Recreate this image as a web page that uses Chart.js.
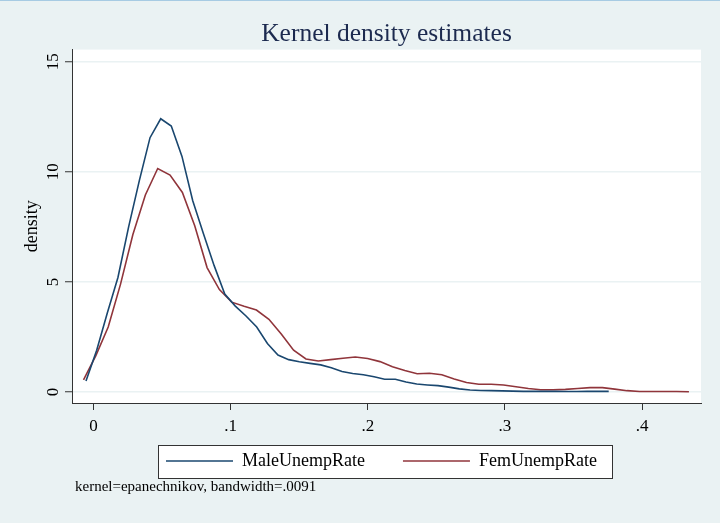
<!DOCTYPE html>
<html>
<head>
<meta charset="utf-8">
<script src="https://cdn.jsdelivr.net/npm/chart.js@4/dist/chart.umd.min.js"></script>
<style>
html,body{margin:0;padding:0;background:#eaf2f3;overflow:hidden;}
#wrap{position:relative;width:720px;height:523px;}
#topline{position:absolute;left:0;top:0;width:720px;height:1px;background:#a7cbe3;}
canvas{display:block;}
</style>
</head>
<body>
<div id="wrap"><canvas id="c" width="720" height="523"></canvas><div id="topline"></div></div>
<script>
// ---- data ----
const titleText = 'Kernel density estimates';
const yAxisTitle = 'density';
const noteText = 'kernel=epanechnikov, bandwidth=.0091';
const seriesNames = ['MaleUnempRate', 'FemUnempRate'];
const xTickValues = [0, 0.1, 0.2, 0.3, 0.4];
const yTickValues = [0, 5, 10, 15];

const maleX = [-0.0055, 0.0023, 0.0101, 0.0178, 0.0256, 0.0334, 0.0412, 0.0490, 0.0567, 0.0645,
  0.0723, 0.0801, 0.0879, 0.0957, 0.1034, 0.1112, 0.1190, 0.1268, 0.1345, 0.1423,
  0.1501, 0.1579, 0.1657, 0.1734, 0.1812, 0.1890, 0.1968, 0.2046, 0.2123, 0.2201,
  0.2279, 0.2357, 0.2435, 0.2512, 0.2590, 0.2668, 0.2746, 0.2824, 0.2901, 0.2979,
  0.3057, 0.3135, 0.3212, 0.3290, 0.3368, 0.3446, 0.3524, 0.3601, 0.3679, 0.3757];
const maleY = [0.5, 1.9, 3.6, 5.2, 7.5, 9.6, 11.55, 12.41, 12.08, 10.7,
  8.7, 7.2, 5.75, 4.45, 3.9, 3.45, 2.95, 2.2, 1.68, 1.47,
  1.37, 1.3, 1.23, 1.1, 0.93, 0.84, 0.78, 0.69, 0.58, 0.58,
  0.45, 0.36, 0.32, 0.29, 0.22, 0.14, 0.09, 0.07, 0.06, 0.05,
  0.04, 0.03, 0.03, 0.03, 0.03, 0.02, 0.02, 0.03, 0.03, 0.03];

const femX = [-0.0073, 0.0017, 0.0107, 0.0197, 0.0287, 0.0378, 0.0468, 0.0558, 0.0648, 0.0738,
  0.0828, 0.0918, 0.1008, 0.1098, 0.1188, 0.1279, 0.1369, 0.1459, 0.1549, 0.1639,
  0.1729, 0.1819, 0.1909, 0.1999, 0.2089, 0.2180, 0.2270, 0.2360, 0.2450, 0.2540,
  0.2630, 0.2720, 0.2810, 0.2900, 0.2990, 0.3081, 0.3171, 0.3261, 0.3351, 0.3441,
  0.3531, 0.3621, 0.3711, 0.3801, 0.3891, 0.3982, 0.4072, 0.4162, 0.4252, 0.4342];
const femY = [0.55, 1.65, 2.95, 4.9, 7.15, 8.95, 10.15, 9.85, 9.06, 7.55,
  5.65, 4.65, 4.08, 3.89, 3.72, 3.3, 2.63, 1.9, 1.5, 1.41,
  1.47, 1.53, 1.59, 1.52, 1.38, 1.15, 0.98, 0.83, 0.85, 0.78,
  0.59, 0.43, 0.35, 0.35, 0.32, 0.24, 0.16, 0.1, 0.1, 0.12,
  0.16, 0.2, 0.2, 0.13, 0.06, 0.02, 0.02, 0.02, 0.02, 0.01];

const serif = '"Liberation Serif", "Times New Roman", serif';
const maleColor = '#1a476f';
const femColor = '#90353b';

const toPoints = (xs, ys) => xs.map((x, i) => ({x: x, y: ys[i]}));
const fmtX = v => v === 0 ? '0' : ('.' + Math.round(v * 10));

// linear scale whose tick labels are not clipped to the (deliberately short) axis box
class NoClipLinearScale extends Chart.LinearScale {
  _computeLabelArea() { return undefined; }
}
NoClipLinearScale.id = 'linearNoClip';
NoClipLinearScale.defaults = Chart.LinearScale.defaults;
Chart.register(NoClipLinearScale);

const framePlugin = {
  id: 'frame',
  afterUpdate(chart) {
    // nudge the legend so its first sample line starts where the reference's does
    const lg = chart.legend;
    const hb = lg && lg.legendHitBoxes;
    if (hb && hb.length) {
      const dx = 166 - hb[0].left;
      lg.left += dx; lg.right += dx;
      hb.forEach(h => { h.left += dx; });
    }
  },
  beforeDraw(chart) {
    const ctx = chart.ctx, a = chart.chartArea;
    ctx.save();
    ctx.fillStyle = '#ffffff';
    ctx.fillRect(a.left, a.top, a.right - a.left, a.bottom - a.top);
    const hb = chart.legend && chart.legend.legendHitBoxes;
    if (hb && hb.length) {
      const f = hb[0], l = hb[hb.length - 1];
      const cy = f.top + f.height / 2;
      const x0 = Math.round(f.left - 8.3) + 0.5;
      const x1 = Math.round(l.left + l.width + 15.5) + 0.5;
      const y0 = Math.round(cy - 16.3) + 0.5;
      const y1 = Math.round(cy + 16.7) + 0.5;
      ctx.fillRect(x0, y0, x1 - x0, y1 - y0);
      ctx.strokeStyle = '#333333';
      ctx.lineWidth = 1;
      ctx.strokeRect(x0, y0, x1 - x0, y1 - y0);
    }
    ctx.restore();
  },
  afterDraw(chart) {
    const ctx = chart.ctx;
    ctx.save();
    ctx.fillStyle = '#000000';
    ctx.font = '15px ' + serif;
    ctx.textAlign = 'left';
    ctx.textBaseline = 'alphabetic';
    ctx.fillText(noteText, 75, 491);
    ctx.restore();
  }
};

new Chart(document.getElementById('c'), {
  type: 'line',
  data: {
    datasets: [
      {label: seriesNames[0], data: toPoints(maleX, maleY), borderColor: maleColor, backgroundColor: maleColor,
       borderWidth: 1.6, pointRadius: 0, tension: 0, fill: false},
      {label: seriesNames[1], data: toPoints(femX, femY), borderColor: femColor, backgroundColor: femColor,
       borderWidth: 1.6, pointRadius: 0, tension: 0, fill: false}
    ]
  },
  options: {
    responsive: false,
    animation: false,
    devicePixelRatio: 1,
    layout: {padding: {left: 0, right: 19, top: 0, bottom: 43}},
    plugins: {
      title: {display: true, text: titleText, fullSize: false, color: '#1c2a4f',
        font: {family: serif, size: 25.5, weight: 'normal'}, padding: {top: 18.8, bottom: 0.2}},
      legend: {position: 'bottom', fullSize: false,
        labels: {usePointStyle: true, pointStyle: 'line', pointStyleWidth: 67, padding: 38,
          color: '#000', font: {family: serif, size: 18}}},
      tooltip: {enabled: false}
    },
    scales: {
      x: {
        type: 'linearNoClip', min: -0.0157, max: 0.443,
        afterBuildTicks: s => { s.ticks = xTickValues.map(v => ({value: v})); },
        afterFit: s => { s.height = 11; },
        grid: {drawOnChartArea: false, tickLength: 7, tickColor: '#333', tickWidth: 1},
        border: {color: '#333', width: 1},
        ticks: {padding: 6, color: '#000', font: {family: serif, size: 17}, maxRotation: 0, autoSkip: false,
          callback: v => fmtX(v)}
      },
      y: {
        min: -0.5, max: 15.55,
        afterBuildTicks: s => { s.ticks = yTickValues.map(v => ({value: v})); },
        afterFit: s => { s.width = 72; },
        grid: {color: '#eaf2f3', lineWidth: 1.5, tickLength: 7, tickColor: '#333', tickWidth: 1},
        border: {color: '#333', width: 1},
        ticks: {minRotation: 90, maxRotation: 90, crossAlign: 'center', padding: 2.5, color: '#000',
          font: {family: serif, size: 17}, autoSkip: false},
        title: {display: true, text: yAxisTitle, color: '#000', font: {family: serif, size: 18},
          padding: {top: 21.5, bottom: 0}}
      }
    }
  },
  plugins: [framePlugin]
});
</script>
</body>
</html>
